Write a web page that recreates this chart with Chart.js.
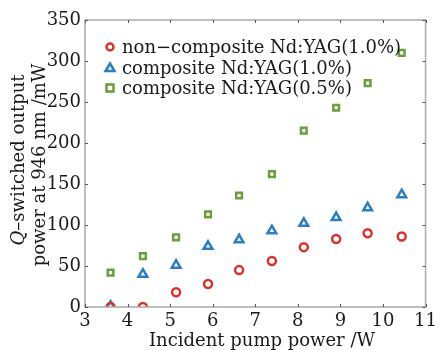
<!DOCTYPE html>
<html><head><meta charset="utf-8">
<script src="https://cdn.jsdelivr.net/npm/chart.js@4.4.1/dist/chart.umd.min.js"></script>
<style>html,body{margin:0;padding:0;background:#fff}#wrap{width:441px;height:350px}</style>
</head><body><div id="wrap"><canvas id="c" width="441" height="350"></canvas></div>
<script>
const pumpPower = [3.6, 4.36, 5.14, 5.89, 6.62, 7.39, 8.14, 8.9, 9.64, 10.44];
const nonComposite10 = [0, 0, 18, 28, 45, 56, 73, 83, 90, 86];
const composite10 = [1, 40, 51, 74, 82, 93, 102, 109, 121, 137];
const composite05 = [42, 62, 85, 113, 136, 162, 215, 243, 273, 310];
const seriesLabels = ['non\u2212composite Nd:YAG(1.0%)', 'composite Nd:YAG(1.0%)', 'composite Nd:YAG(0.5%)'];
const xTicks = [3, 4, 5, 6, 7, 8, 9, 10, 11];
const yTicks = [0, 50, 100, 150, 200, 250, 300, 350];
const xTitle = 'Incident pump power /W';
const yTitle1a = 'Q', yTitle1b = '\u2013switched output', yTitle2 = 'power at 946 nm /mW';

const FONT = '"DejaVu Serif", serif';
const colors = ['#d8332c', '#2b7fc1', '#6b9e3c'];
const styles = ['circle', 'triangle', 'rect'];
const sets = [nonComposite10, composite10, composite05];

const datasets = sets.map((vals, i) => ({
  label: seriesLabels[i],
  data: pumpPower.map((x, j) => ({x, y: vals[j]})),
  showLine: false,
  pointStyle: styles[i],
  pointRadius: i === 1 ? 5 : 4,
  pointBorderWidth: 2.5,
  pointBackgroundColor: 'rgba(255,255,255,0)',
  pointBorderColor: colors[i]
}));

const frame = {
  id: 'frame',
  afterDraw(chart) {
    const {ctx, chartArea: a, scales: {x, y}} = chart;
    ctx.save();
    ctx.strokeStyle = '#a9a9a9';
    ctx.lineWidth = 1.5;
    ctx.strokeRect(a.left, a.top, a.right - a.left, a.bottom - a.top);
    ctx.strokeStyle = '#555';
    ctx.lineWidth = 1;
    xTicks.forEach(v => {
      const px = Math.round(x.getPixelForValue(v)) + 0.5;
      ctx.beginPath(); ctx.moveTo(px, a.bottom); ctx.lineTo(px, a.bottom - 3);
      ctx.moveTo(px, a.top); ctx.lineTo(px, a.top + 3); ctx.stroke();
    });
    yTicks.forEach(v => {
      const py = Math.round(y.getPixelForValue(v)) + 0.5;
      ctx.beginPath(); ctx.moveTo(a.left, py); ctx.lineTo(a.left + 3, py);
      ctx.moveTo(a.right, py); ctx.lineTo(a.right - 3, py); ctx.stroke();
    });
    // axis titles
    ctx.fillStyle = '#1a1a1a';
    ctx.font = '18px ' + FONT;
    ctx.textAlign = 'center';
    ctx.textBaseline = 'middle';
    ctx.fillText(xTitle, 262, 341);
    ctx.save();
    ctx.translate(19, 160);
    ctx.rotate(-Math.PI / 2);
    ctx.font = 'italic 18px ' + FONT;
    const wq = ctx.measureText(yTitle1a).width;
    ctx.font = '18px ' + FONT;
    const wr = ctx.measureText(yTitle1b).width;
    const start = -(wq + wr) / 2;
    ctx.textAlign = 'left';
    ctx.font = 'italic 18px ' + FONT;
    ctx.fillText(yTitle1a, start, 0);
    ctx.font = '18px ' + FONT;
    ctx.fillText(yTitle1b, start + wq, 0);
    ctx.textAlign = 'center';
    ctx.fillText(yTitle2, -5, 21);
    ctx.restore();
    // legend
    const rows = [47, 68, 88];
    ctx.font = '18px ' + FONT;
    ctx.textAlign = 'left';
    chart.data.datasets.forEach((ds, i) => {
      ctx.strokeStyle = colors[i];
      ctx.lineWidth = 2.5;
      ctx.beginPath();
      if (i === 0) ctx.arc(110, rows[i], 3.5, 0, Math.PI * 2);
      else if (i === 1) { ctx.moveTo(110, rows[i] - 4.5); ctx.lineTo(114.5, rows[i] + 3); ctx.lineTo(105.5, rows[i] + 3); ctx.closePath(); }
      else ctx.rect(106.5, rows[i] - 3.5, 7, 7);
      ctx.stroke();
      ctx.fillStyle = '#1a1a1a';
      ctx.fillText(ds.label, 122, rows[i] + 1);
    });
    ctx.restore();
  }
};

new Chart(document.getElementById('c'), {
  type: 'scatter',
  data: {datasets},
  options: {
    responsive: false,
    animation: false,
    layout: {padding: {top: 20, right: 10, left: 0, bottom: 0}},
    plugins: {legend: {display: false}, tooltip: {enabled: false}},
    scales: {
      x: {
        type: 'linear', min: 3, max: 11,
        afterFit(s) { s.height = 43; },
        afterBuildTicks(s) { s.ticks = xTicks.map(v => ({value: v})); },
        grid: {display: false, drawTicks: false},
        border: {display: false},
        ticks: {color: '#1a1a1a', font: {family: FONT, size: 18}, padding: 4}
      },
      y: {
        type: 'linear', min: 0, max: 350,
        afterFit(s) { s.width = 85; },
        afterBuildTicks(s) { s.ticks = yTicks.map(v => ({value: v})); },
        grid: {display: false, drawTicks: false},
        border: {display: false},
        ticks: {color: '#1a1a1a', font: {family: FONT, size: 18}, padding: 4}
      }
    }
  },
  plugins: [frame]
});
</script></body></html>
